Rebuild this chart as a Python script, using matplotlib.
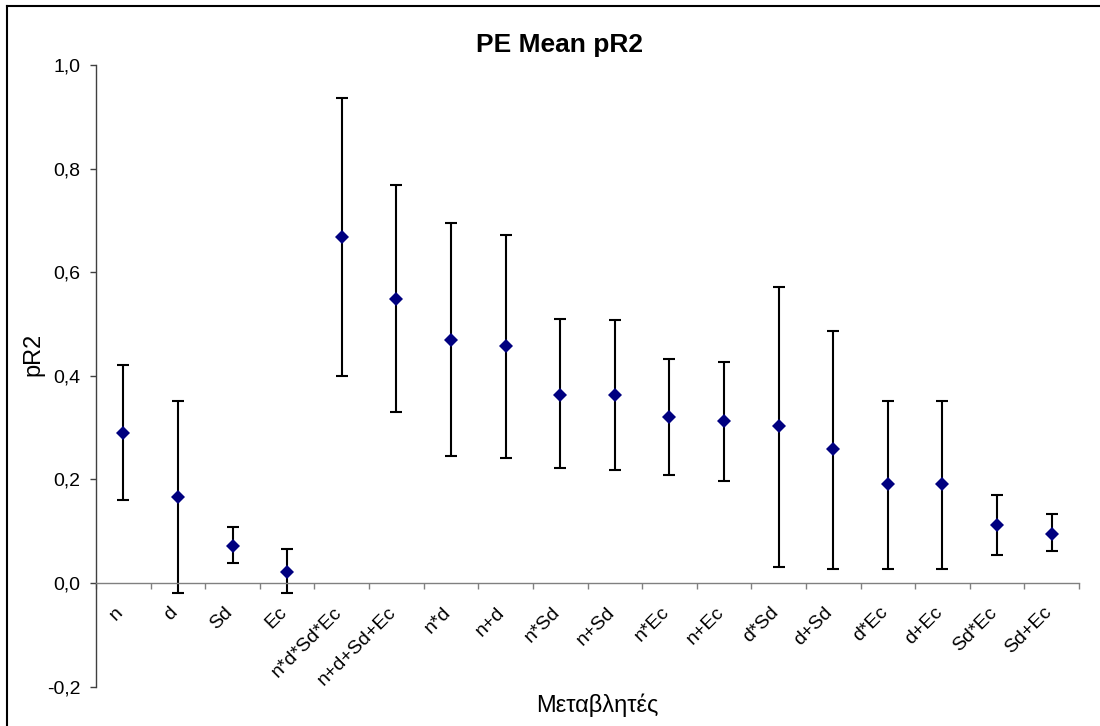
import matplotlib
matplotlib.use("Agg")
import matplotlib.pyplot as plt
from matplotlib.lines import Line2D
import matplotlib.transforms as mtransforms
import numpy as np

categories = ["n", "d", "Sd", "Ec", "n*d*Sd*Ec", "n+d+Sd+Ec", "n*d", "n+d",
              "n*Sd", "n+Sd", "n*Ec", "n+Ec", "d*Sd", "d+Sd", "d*Ec", "d+Ec",
              "Sd*Ec", "Sd+Ec"]
mean_pr2 = [0.289, 0.167, 0.071, 0.021, 0.668, 0.548, 0.470, 0.457,
            0.364, 0.364, 0.320, 0.313, 0.303, 0.259, 0.191, 0.191,
            0.112, 0.095]
upper_pr2 = [0.420, 0.351, 0.109, 0.065, 0.937, 0.769, 0.695, 0.671,
             0.510, 0.507, 0.432, 0.426, 0.572, 0.486, 0.351, 0.351,
             0.170, 0.133]
lower_pr2 = [0.161, -0.020, 0.038, -0.020, 0.399, 0.330, 0.245, 0.242,
             0.222, 0.218, 0.208, 0.198, 0.031, 0.028, 0.028, 0.028,
             0.055, 0.061]
yticks = [-0.2, 0.0, 0.2, 0.4, 0.6, 0.8, 1.0]

plt.rcParams['font.family'] = ['Liberation Sans', 'DejaVu Sans']

fig = plt.figure(figsize=(11, 7.26), dpi=100)
ax = fig.add_axes([96/1100, 1 - 686.7/726, (1079-96)/1100, (686.7-65)/726])

x = np.arange(len(categories)) + 0.5
mean = np.array(mean_pr2)
yerr = np.vstack([mean - np.array(lower_pr2), np.array(upper_pr2) - mean])
ax.errorbar(x, mean, yerr=yerr, fmt='none', ecolor='black', elinewidth=1.5,
            capsize=4.5, capthick=1.5, zorder=2)
ax.plot(x, mean, linestyle='none', marker='D', color='#000080',
        markersize=7, markeredgewidth=0, zorder=3)

ax.set_xlim(0, len(categories))
ax.set_ylim(-0.2, 1.0)

for s in ['top', 'right']:
    ax.spines[s].set_visible(False)
ax.spines['bottom'].set_position(('data', 0))
ax.spines['bottom'].set_color('#808080')
ax.spines['left'].set_color('#404040')
ax.spines['bottom'].set_linewidth(1.0)
ax.spines['left'].set_linewidth(1.0)

ax.set_yticks(yticks)
ax.set_yticklabels([f"{v:.1f}".replace('.', ',') for v in yticks], fontsize=14)
ax.tick_params(axis='y', direction='out', length=4, width=1, color='#404040', pad=7)

ax.set_xticks(np.arange(len(categories) + 1))
ax.set_xticklabels([])
ax.tick_params(axis='x', which='major', direction='out', length=4, width=1, color='#808080')
ax.set_xticks(x, minor=True)
ax.set_xticklabels(categories, minor=True, rotation=45, ha='right',
                   rotation_mode='anchor', fontsize=14)
ax.tick_params(axis='x', which='minor', length=0, pad=15)
offset = mtransforms.ScaledTranslation(-9/100, 0, fig.dpi_scale_trans)
for lab in ax.get_xticklabels(minor=True):
    lab.set_transform(lab.get_transform() + offset)

fig.text(559/1100, 1 - 45/726, "PE Mean pR2", ha='center', va='center',
         fontsize=19, fontweight='bold')
fig.text(597/1100, 1 - 705/726, "Μεταβλητές", ha='center', va='center', fontsize=17)
fig.text(33/1100, 1 - 354/726, "pR2", ha='center', va='center', fontsize=17,
         rotation=90)

# chart border (top and left edges visible)
fig.add_artist(Line2D([7/1100, 7/1100], [0, 1 - 6/726], transform=fig.transFigure,
                      color='black', linewidth=1.5))
fig.add_artist(Line2D([7/1100, 1], [1 - 6/726, 1 - 6/726], transform=fig.transFigure,
                      color='black', linewidth=1.5))

fig.savefig("out.png", dpi=100)
